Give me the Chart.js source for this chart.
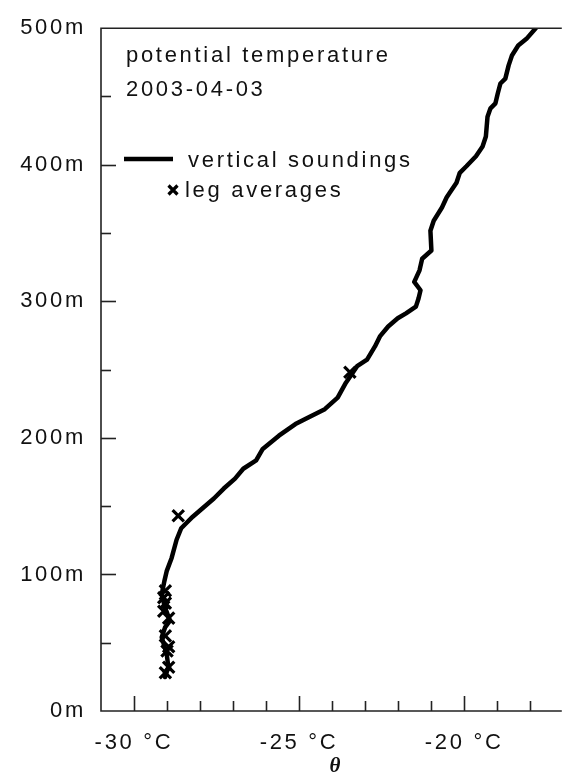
<!DOCTYPE html>
<html>
<head>
<meta charset="utf-8">
<script src="https://cdn.jsdelivr.net/npm/chart.js@4/dist/chart.umd.min.js"></script>
<style>
  html, body { margin: 0; padding: 0; background: #fff; }
  canvas { display: block; }
</style>
</head>
<body>
<canvas id="chart" width="571" height="778"></canvas>
<script>
// Potential temperature profile, 2003-04-03
// Vertical soundings: temperature (°C) against height (m)
const soundingTemp = [
  -29.06, -28.96, -29.01, -29.16, -29.06, -28.91, -29.06, -29.16, -29.08, -29.01,
  -28.86, -28.71, -28.57, -28.42, -28.22, -27.87, -27.58, -27.28, -26.94, -26.69,
  -26.30, -26.10, -25.61, -25.11, -24.72, -24.22, -23.83, -23.58, -23.24, -22.94,
  -22.70, -22.55, -22.30, -22.01, -21.76, -21.46, -21.38, -21.32, -21.51, -21.35,
  -21.27, -20.99, -21.02, -20.92, -20.67, -20.53, -20.43, -20.23, -20.13, -19.93,
  -19.64, -19.44, -19.34, -19.29, -19.20, -19.05, -18.98, -18.90, -18.75, -18.65,
  -18.55, -18.36, -18.11, -17.83
];
const soundingHeight = [
  24.9, 32.2, 41.9, 54.0, 61.2, 66.1, 75.7, 85.5, 95.1, 102.4,
  112.1, 125.4, 133.8, 137.5, 142.3, 149.6, 155.6, 162.9, 170.2, 177.4,
  183.5, 191.9, 201.6, 210.1, 215.0, 221.0, 229.5, 240.4, 252.5, 257.3,
  267.0, 274.3, 281.6, 287.6, 291.2, 296.1, 302.1, 308.1, 314.2, 322.7,
  331.2, 337.2, 351.7, 359.0, 368.7, 376.0, 379.6, 386.8, 394.1, 398.9,
  406.2, 413.4, 420.7, 435.2, 441.3, 445.0, 452.2, 459.5, 463.1, 472.8,
  480.0, 487.3, 492.2, 500.0
];

// Flight leg averages
const legTemp   = [-29.05, -28.95, -29.00, -28.95, -29.05, -28.95, -29.10, -29.05, -29.10, -29.05, -28.66, -23.46];
const legHeight = [28, 32, 44, 47, 55, 68, 73, 79, 83, 88, 143, 248];

// Axis ticks
const xMajorTicks = [-30, -25, -20];
const xMinorTicks = [-29, -28, -27, -26, -24, -23, -22, -21, -19, -18];
const yMajorTicks = [0, 100, 200, 300, 400, 500];
const yMinorTicks = [50, 150, 250, 350, 450];

const titleLines = ['potential temperature', '2003-04-03'];
const legendLabels = ['vertical soundings', 'leg averages'];
const xAxisTitle = 'θ';

const FONT_FAMILY = '"Liberation Sans", Arial, sans-serif';
const INK = '#111';

const toPoints = (xs, ys) => xs.map((x, i) => ({ x: x, y: ys[i] }));

// Wide letter spacing for all canvas text
const spacingPlugin = {
  id: 'spacing',
  beforeDraw(chart) {
    chart.ctx.letterSpacing = '2.7px';
  }
};

// Axis frame with inward tick marks
const framePlugin = {
  id: 'frame',
  afterDatasetsDraw(chart) {
    const { ctx, chartArea: a, scales: { x, y } } = chart;
    ctx.save();
    ctx.strokeStyle = '#222';
    ctx.lineWidth = 1.6;
    ctx.beginPath();
    ctx.moveTo(a.right + 2, a.top);
    ctx.lineTo(a.left, a.top);
    ctx.lineTo(a.left, a.bottom);
    ctx.lineTo(a.right + 2, a.bottom);
    ctx.stroke();

    const tick = (x0, y0, x1, y1) => {
      ctx.beginPath();
      ctx.moveTo(x0, y0);
      ctx.lineTo(x1, y1);
      ctx.stroke();
    };
    xMajorTicks.forEach(v => {
      const px = Math.round(x.getPixelForValue(v)) + 0.5;
      tick(px, a.bottom, px, a.bottom - 15);
    });
    xMinorTicks.forEach(v => {
      const px = Math.round(x.getPixelForValue(v)) + 0.5;
      tick(px, a.bottom, px, a.bottom - 10);
    });
    yMajorTicks.filter(v => v > 0 && v < 500).forEach(v => {
      const py = Math.round(y.getPixelForValue(v)) + 0.5;
      tick(a.left, py, a.left + 15, py);
    });
    yMinorTicks.forEach(v => {
      const py = Math.round(y.getPixelForValue(v)) + 0.5;
      tick(a.left, py, a.left + 10, py);
    });
    ctx.restore();
  }
};

// Title block, legend and axis symbol
const notesPlugin = {
  id: 'notes',
  afterDraw(chart) {
    const { ctx, scales: { x } } = chart;
    ctx.save();
    ctx.fillStyle = INK;
    ctx.font = '22px ' + FONT_FAMILY;
    ctx.textAlign = 'left';
    ctx.textBaseline = 'alphabetic';
    ctx.fillText(titleLines[0], 126, 62);
    ctx.fillText(titleLines[1], 126, 96);

    // line sample
    ctx.strokeStyle = '#000';
    ctx.lineWidth = 4.5;
    ctx.beginPath();
    ctx.moveTo(124, 159);
    ctx.lineTo(173, 159);
    ctx.stroke();
    ctx.fillText(legendLabels[0], 188, 167);

    // marker sample
    ctx.lineWidth = 3.2;
    ctx.beginPath();
    const cx = 173, cy = 190, r = 4.5;
    ctx.moveTo(cx - r, cy - r); ctx.lineTo(cx + r, cy + r);
    ctx.moveTo(cx - r, cy + r); ctx.lineTo(cx + r, cy - r);
    ctx.stroke();
    ctx.fillText(legendLabels[1], 185, 197);

    // axis symbol below the tick labels
    ctx.letterSpacing = '0px';
    ctx.font = 'italic bold 21px "Liberation Serif", serif';
    ctx.textAlign = 'center';
    ctx.textBaseline = 'middle';
    ctx.fillText(xAxisTitle, x.getPixelForValue(-25) + 36, 767);
    ctx.restore();
  }
};

new Chart(document.getElementById('chart'), {
  type: 'scatter',
  data: {
    datasets: [
      {
        label: legendLabels[0],
        data: toPoints(soundingTemp, soundingHeight),
        showLine: true,
        borderColor: '#000',
        borderWidth: 4.5,
        borderJoinStyle: 'round',
        borderCapStyle: 'round',
        pointRadius: 0,
        tension: 0
      },
      {
        label: legendLabels[1],
        data: toPoints(legTemp, legHeight),
        showLine: false,
        pointStyle: 'crossRot',
        pointRadius: 8,
        borderColor: '#000',
        borderWidth: 3.2
      }
    ]
  },
  options: {
    responsive: false,
    animation: false,
    devicePixelRatio: 1,
    layout: { padding: { top: 22, right: 0, bottom: 0, left: 0 } },
    plugins: {
      legend: { display: false },
      tooltip: { enabled: false }
    },
    scales: {
      x: {
        type: 'linear',
        min: -31,
        max: -17.1,
        border: { display: false },
        grid: { display: false, drawTicks: false },
        afterBuildTicks: s => { s.ticks = xMajorTicks.map(v => ({ value: v })); },
        afterFit: s => { s.height = 67; },
        ticks: {
          padding: 19,
          maxRotation: 0,
          autoSkip: false,
          color: INK,
          font: { family: FONT_FAMILY, size: 22 },
          callback: v => v + ' °C'
        }
      },
      y: {
        type: 'linear',
        min: 0,
        max: 500,
        border: { display: false },
        grid: { display: false, drawTicks: false },
        afterBuildTicks: s => { s.ticks = yMajorTicks.map(v => ({ value: v })); },
        afterFit: s => { s.width = 101; },
        ticks: {
          padding: 15,
          autoSkip: false,
          color: INK,
          font: { family: FONT_FAMILY, size: 22 },
          callback: v => v + 'm'
        }
      }
    }
  },
  plugins: [spacingPlugin, framePlugin, notesPlugin]
});
</script>
</body>
</html>
